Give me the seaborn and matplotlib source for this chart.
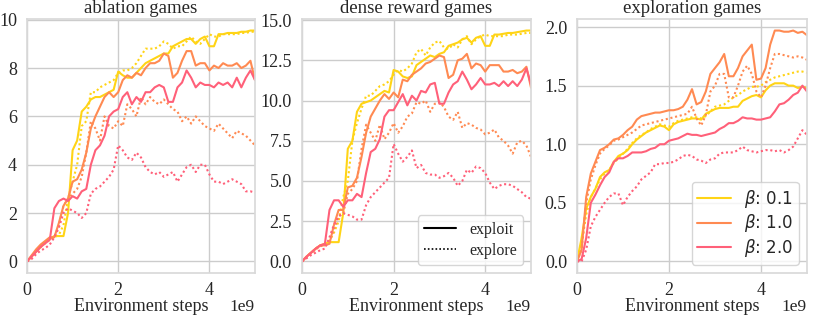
import numpy as np
import pandas as pd
import matplotlib
matplotlib.use("Agg")
import matplotlib.pyplot as plt
from matplotlib.lines import Line2D
import seaborn as sns

# sample positions (in units of 1e9 environment steps)
steps_e9 = [round(i * 0.1, 1) for i in range(51)]

betas = ["0.1", "1.0", "2.0"]
colors = ["#FFD416", "#FF8A52", "#FF6079"]
panel_titles = ["ablation games", "dense reward games", "exploration games"]

# ---- ablation games ----
A_b01_exploit = [0,0.2,0.4,0.6,0.8,0.95,1.05,1.05,1.05,2.0, 4.6,5.0,6.2,6.4,6.7,6.8,6.8,6.9,7.0,7.1,
                 7.85,7.7,7.6,7.6,7.8,8.0,8.2,8.3,8.4,8.5, 8.6,8.6,8.9,9.0,9.1,9.2,9.2,9.0,9.2,9.3,
                 8.9,8.9,9.4,9.4,9.45,9.45,9.45,9.5,9.5,9.55, 9.55]
A_b01_explore = [0,0.2,0.4,0.6,0.75,0.9,1.0,1.1,1.5,2.6, 3.3,4.0,5.6,5.8,7.0,7.0,7.2,7.3,7.4,7.5,
                 7.8,7.9,7.9,8.0,8.2,8.5,8.8,8.8,8.8,8.9, 9.1,9.0,8.8,8.9,8.9,9.1,9.3,9.1,9.0,9.2,
                 9.4,9.3,9.3,9.4,9.4,9.4,9.4,9.45,9.45,9.5, 9.5]
A_b10_exploit = [0,0.25,0.5,0.7,0.85,1.0,1.0,1.6,2.3,2.6, 3.3,3.4,3.8,4.5,5.5,6.0,6.4,6.8,7.0,6.8,
                 7.0,7.5,7.7,7.6,7.8,7.7,8.0,8.2,8.2,8.3, 8.6,8.5,7.6,7.8,8.3,8.7,8.7,8.1,8.2,8.2,
                 7.9,8.1,8.0,8.2,8.1,8.1,8.2,8.0,8.1,8.3, 7.5]
A_b10_explore = [0,0.2,0.4,0.6,0.8,0.9,1.0,1.5,2.3,2.6, 2.8,3.0,3.5,4.5,5.8,5.5,5.0,6.0,5.6,5.5,
                 5.8,5.6,6.5,6.3,6.0,6.8,6.5,6.8,6.6,6.5, 6.7,6.5,6.3,6.2,5.8,6.0,5.7,6.0,5.8,5.6,
                 5.5,5.4,5.7,5.5,5.3,5.1,5.4,5.3,5.2,5.0, 4.8]
A_b20_exploit = [0,0.2,0.4,0.6,0.75,0.9,2.2,2.5,2.6,2.5, 2.7,2.6,2.9,3.0,4.0,4.6,4.8,5.2,6.0,6.2,
                 6.3,6.8,7.0,6.5,6.8,6.6,7.0,7.0,7.2,7.3, 7.2,6.6,6.6,7.2,7.4,7.9,7.6,7.2,7.4,7.3,
                 7.3,7.2,7.4,7.3,7.4,7.2,7.6,7.2,7.6,7.9, 7.5]
A_b20_explore = [0,0.1,0.3,0.45,0.55,0.7,1.0,1.4,2.0,2.2, 2.1,2.0,1.8,2.0,2.8,3.0,3.1,3.3,3.5,3.8,
                 4.8,4.6,4.3,4.2,4.5,4.3,3.9,3.7,3.6,3.7, 3.5,3.6,3.7,3.3,3.6,3.9,4.0,3.7,4.0,4.0,
                 3.6,3.3,3.3,3.2,3.3,3.4,3.3,3.2,2.9,2.9, 2.85]

# ---- dense reward games ----
D_b01_exploit = [0,0.3,0.55,0.8,1.0,1.1,1.2,1.2,1.2,3.0, 7.0,7.5,9.3,9.8,9.9,10.0,10.2,10.4,10.6,10.5,
                 11.9,11.8,11.5,11.4,11.5,12.2,12.4,12.6,12.8,12.7, 12.9,13.0,13.4,13.5,13.6,13.8,13.9,13.6,13.9,14.0,
                 13.4,13.4,14.1,14.1,14.15,14.2,14.2,14.25,14.3,14.35, 14.35]
D_b01_explore = [0,0.3,0.55,0.8,1.0,1.1,1.3,1.8,2.5,4.0, 5.0,7.5,8.6,9.5,10.3,10.3,10.6,10.9,11.0,11.2,
                 11.6,11.9,11.8,12.0,12.3,13.0,13.2,12.8,13.3,13.6, 13.7,13.3,13.2,13.5,13.3,13.8,14.0,13.5,13.8,14.0,
                 14.1,14.0,14.0,14.0,14.0,14.1,14.1,14.1,14.15,14.2, 14.2]
D_b10_exploit = [0,0.3,0.55,0.8,1.0,1.0,1.1,2.3,3.2,3.2, 4.6,4.7,5.2,6.5,8.0,9.0,9.5,10.0,10.4,10.1,
                 10.5,10.2,11.3,11.2,11.6,11.8,12.0,12.3,12.4,12.6, 12.8,12.7,11.4,11.6,12.5,12.6,12.9,12.0,12.3,12.2,
                 11.8,12.2,12.2,12.2,11.8,11.8,11.9,11.7,11.8,12.1, 10.8]
D_b10_explore = [0,0.25,0.5,0.75,0.95,1.0,1.2,2.0,2.8,3.0, 4.2,4.5,5.0,7.0,8.5,8.0,7.5,8.5,7.6,8.0,
                 8.6,8.0,8.4,9.0,9.2,9.9,9.8,10.0,9.3,9.8, 9.9,9.6,9.0,8.8,9.3,8.3,8.6,8.5,8.3,8.2,
                 7.9,8.0,8.2,7.7,7.5,7.2,6.7,7.4,7.5,7.2, 6.5]
D_b20_exploit = [0,0.3,0.55,0.8,1.0,1.1,3.2,3.8,3.8,3.4, 3.8,3.8,4.2,4.0,5.5,6.8,7.0,7.6,9.0,9.4,
                 9.4,9.9,10.4,9.7,10.3,10.0,10.6,10.5,11.0,11.1, 9.8,9.8,10.5,11.0,11.2,11.8,11.3,10.7,11.0,11.4,
                 11.0,11.0,11.1,10.9,11.2,10.9,11.2,10.9,11.3,12.0, 11.0]
D_b20_explore = [0,0.2,0.4,0.55,0.7,0.8,1.5,2.3,2.8,3.0, 2.9,2.8,2.6,2.6,3.5,4.0,4.3,4.6,4.9,5.2,
                 7.3,6.7,6.2,6.5,6.9,5.8,6.0,5.5,5.4,5.4, 5.2,5.3,5.5,5.2,4.7,5.0,5.7,5.5,5.9,5.8,
                 5.5,4.9,4.5,4.7,4.8,4.8,4.7,4.5,4.3,4.0, 3.9]

# ---- exploration games ----
E_b01_exploit = [0,0.2,0.45,0.55,0.62,0.72,0.76,0.78,0.85,0.9, 0.92,0.95,1.0,1.04,1.07,1.1,1.12,1.14,1.16,1.15,
                 1.12,1.17,1.19,1.2,1.21,1.22,1.22,1.21,1.26,1.28, 1.3,1.31,1.31,1.31,1.32,1.32,1.37,1.39,1.41,1.42,
                 1.40,1.46,1.5,1.52,1.52,1.52,1.5,1.5,1.48,1.49, 1.48]
E_b01_explore = [0,0.15,0.4,0.55,0.62,0.7,0.75,0.78,0.84,0.88, 0.92,0.96,1.01,1.05,1.08,1.1,1.13,1.15,1.17,1.16,
                 1.15,1.18,1.2,1.21,1.22,1.23,1.23,1.22,1.24,1.28, 1.32,1.33,1.34,1.37,1.40,1.42,1.45,1.47,1.49,1.49,
                 1.5,1.53,1.55,1.57,1.58,1.59,1.60,1.61,1.62,1.62, 1.61]
E_b10_exploit = [0,0.1,0.55,0.75,0.85,0.95,0.97,1.0,1.04,1.05, 1.08,1.12,1.15,1.21,1.24,1.25,1.26,1.27,1.27,1.28,
                 1.29,1.29,1.30,1.32,1.38,1.47,1.34,1.36,1.45,1.6, 1.65,1.7,1.77,1.58,1.58,1.65,1.75,1.8,1.85,1.55,
                 1.56,1.65,1.85,1.97,1.97,1.96,1.96,1.97,1.95,1.96, 1.93]
E_b10_explore = [0,0.1,0.5,0.7,0.82,0.92,0.96,0.99,1.03,1.04, 1.06,1.08,1.1,1.13,1.16,1.17,1.18,1.19,1.2,1.21,
                 1.22,1.23,1.24,1.25,1.26,1.32,1.22,1.16,1.25,1.45, 1.5,1.6,1.6,1.4,1.4,1.5,1.62,1.67,1.6,1.45,
                 1.40,1.5,1.65,1.77,1.77,1.76,1.75,1.74,1.75,1.74, 1.72]
E_b20_exploit = [0,0.02,0.2,0.5,0.57,0.65,0.72,0.76,0.85,0.88, 0.88,0.9,0.93,0.93,0.93,0.94,0.96,0.97,1.0,1.0,
                 1.03,1.04,1.05,1.07,1.09,1.08,1.08,1.07,1.08,1.09, 1.10,1.13,1.15,1.18,1.18,1.20,1.23,1.22,1.22,1.21,
                 1.21,1.22,1.23,1.28,1.34,1.35,1.38,1.42,1.44,1.50, 1.45]
E_b20_explore = [0,0.0,0.1,0.3,0.38,0.44,0.5,0.55,0.58,0.58, 0.48,0.55,0.6,0.64,0.7,0.73,0.76,0.83,0.83,0.84,
                 0.84,0.85,0.87,0.9,0.91,0.9,0.87,0.86,0.84,0.87, 0.88,0.92,0.93,0.93,0.93,0.95,0.98,0.95,0.94,0.93,
                 0.94,0.95,0.95,0.94,0.95,0.93,0.95,0.98,1.05,1.12, 1.08]

panels = [
    {"0.1": (A_b01_exploit, A_b01_explore), "1.0": (A_b10_exploit, A_b10_explore), "2.0": (A_b20_exploit, A_b20_explore)},
    {"0.1": (D_b01_exploit, D_b01_explore), "1.0": (D_b10_exploit, D_b10_explore), "2.0": (D_b20_exploit, D_b20_explore)},
    {"0.1": (E_b01_exploit, E_b01_explore), "1.0": (E_b10_exploit, E_b10_explore), "2.0": (E_b20_exploit, E_b20_explore)},
]

sns.set_theme(style="whitegrid")
plt.rcParams["font.family"] = ["Liberation Serif", "DejaVu Serif"]
plt.rcParams["mathtext.fontset"] = "dejavusans"

fig = plt.figure(figsize=(8.14, 3.16), dpi=100)
ax_rects = [(27/814, 43/316, 228/814, 254/316),
            (302/814, 43/316, 229/814, 254/316),
            (577/814, 43/316, 230/814, 254/316)]
palette = dict(zip(betas, colors))
FS = 13
TXT = "#262626"
LBL_Y = -0.15

for idx, (rect, data, title) in enumerate(zip(ax_rects, panels, panel_titles)):
    ax = fig.add_axes(rect)
    rows = []
    for b in betas:
        exp_, xpl = data[b]
        for s, v1, v2 in zip(steps_e9, exp_, xpl):
            rows.append({"step": s * 1e9, "score": v1, "beta": b, "mode": "exploit"})
            rows.append({"step": s * 1e9, "score": v2, "beta": b, "mode": "explore"})
    df = pd.DataFrame(rows)
    sns.lineplot(data=df, x="step", y="score", hue="beta", style="mode",
                 palette=palette, dashes={"exploit": "", "explore": (1, 1.3)},
                 linewidth=1.5, legend=False, ax=ax, estimator=None, sort=False)
    ax.set_xlim(0, 5e9)
    ax.set_xticks([0, 2e9, 4e9])
    ax.set_title(title, fontsize=13.5, pad=4, color=TXT)
    ax.set_xlabel("Environment steps", fontsize=FS, color=TXT)
    ax.xaxis.label.set_va("baseline")
    ax.xaxis.set_label_coords(0.5, LBL_Y)
    ax.set_ylabel("")
    ax.tick_params(axis="y", labelsize=FS, pad=1.2, labelcolor=TXT)
    ax.tick_params(axis="x", labelsize=FS, pad=0.5, labelcolor=TXT)
    ax.xaxis.get_offset_text().set_visible(False)
    ax.text(1.0, LBL_Y, "1e9", transform=ax.transAxes, ha="right", va="baseline",
            fontsize=FS - 0.5, color=TXT)
    for sp in ax.spines.values():
        sp.set_color("#d9d9d9")
    if idx == 1:
        handles = [Line2D([], [], color="black", lw=1.5, ls="-"),
                   Line2D([], [], color="black", lw=1.2, ls=(0, (1, 1.3)))]
        ax.legend(handles, ["exploit", "explore"], loc="lower right", fontsize=11.5,
                  frameon=True, handlelength=2.0, labelspacing=0.3, handletextpad=0.8)
    if idx == 2:
        handles = [Line2D([], [], color=c, lw=1.5) for c in colors]
        labels = [r"$\beta$: " + b for b in betas]
        ax.legend(handles, labels, loc="lower right", handlelength=2.0, labelspacing=0.15,
                  borderpad=0.35, prop={"family": "DejaVu Sans", "size": 12}, frameon=True)

fig.savefig("out.png", dpi=100)
